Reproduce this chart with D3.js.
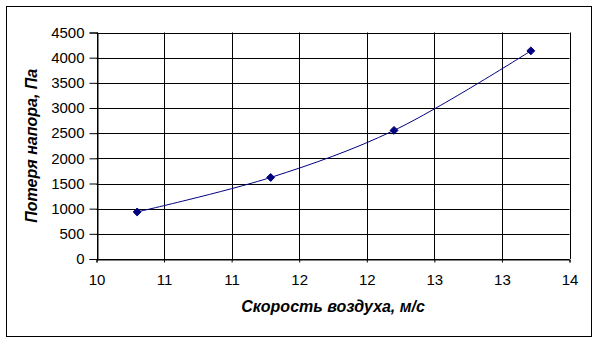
<!DOCTYPE html>
<html>
<head>
<meta charset="utf-8">
<script src="https://cdn.jsdelivr.net/npm/d3@7"></script>
<style>
  html, body { margin: 0; padding: 0; background: #fff; }
  svg { display: block; }
  text { font-family: Arial, "Liberation Sans", sans-serif; }
</style>
</head>
<body>
<svg id="chart" width="599" height="344"></svg>
<script>
// Data
const speeds = [10.344, 11.473, 12.516, 13.673];
const losses = [935, 1620, 2555, 4135];
const xTicks = [10, 10 + 4/7, 10 + 8/7, 10 + 12/7, 10 + 16/7, 10 + 20/7, 10 + 24/7, 14];
const yTicks = [0, 500, 1000, 1500, 2000, 2500, 3000, 3500, 4000, 4500];
const xTitle = "Скорость воздуха, м/с";
const yTitle = "Потеря напора, Па";

(function () {
const svg = d3.select("#chart");
const pLeft = 96.5, pRight = 569.5, pTop = 32.5, pBottom = 259;

const x = d3.scaleLinear().domain([10, 14]).range([pLeft, pRight]);
const y = d3.scaleLinear().domain([0, 4500]).range([pBottom, pTop]);

// Outer border
svg.append("rect").attr("x", 6.5).attr("y", 6.5).attr("width", 585).attr("height", 330)
  .attr("fill", "#fff").attr("stroke", "#000").attr("stroke-width", 1);

// Gridlines
svg.append("g").selectAll("line").data(yTicks).join("line")
  .attr("x1", pLeft).attr("x2", pRight)
  .attr("y1", d => Math.round(y(d)) + 0.5).attr("y2", d => Math.round(y(d)) + 0.5)
  .attr("stroke", "#000").attr("stroke-width", 1);
svg.append("g").selectAll("line").data(xTicks).join("line")
  .attr("y1", pTop).attr("y2", pBottom)
  .attr("x1", d => Math.round(x(d)) + 0.5).attr("x2", d => Math.round(x(d)) + 0.5)
  .attr("stroke", "#000").attr("stroke-width", 1);

// Axes
const yAxis = d3.axisLeft(y).tickValues(yTicks).tickSize(8).tickPadding(5).tickFormat(d3.format("d"));
const gy = svg.append("g").attr("transform", `translate(${Math.round(pLeft) + 0.5},0)`).call(yAxis);
gy.select(".domain").attr("stroke", "#000");
gy.selectAll(".tick line").attr("stroke", "#000");
gy.selectAll("text").attr("font-size", 15).attr("fill", "#000")
  .attr("font-family", "Arial, 'Liberation Sans', sans-serif");

const xAxis = d3.axisBottom(x).tickValues(xTicks).tickSize(3).tickPadding(12).tickFormat(d => Math.round(d));
const gx = svg.append("g").attr("transform", `translate(0,${Math.round(pBottom) + 0.5})`).call(xAxis);
gx.select(".domain").attr("stroke", "#000");
gx.selectAll(".tick line").attr("stroke", "#000");
gx.selectAll("text").attr("font-size", 15).attr("fill", "#000")
  .attr("font-family", "Arial, 'Liberation Sans', sans-serif");

// Line
const pts = speeds.map((s, i) => [s, losses[i]]);
svg.append("path").datum(pts)
  .attr("d", d3.line().x(d => x(d[0])).y(d => y(d[1])).curve(d3.curveCatmullRom.alpha(0.5)))
  .attr("fill", "none").attr("stroke", "#000080").attr("stroke-width", 1);

// Markers
svg.append("g").selectAll("path").data(pts).join("path")
  .attr("d", d3.symbol(d3.symbolDiamond2, 40))
  .attr("transform", d => `translate(${x(d[0])},${y(d[1])})`)
  .attr("fill", "#000080").attr("stroke", "#000080").attr("stroke-width", 1);

// Titles
svg.append("text").attr("x", (pLeft + pRight) / 2).attr("y", 312)
  .attr("text-anchor", "middle").attr("font-size", 16).attr("font-weight", "bold")
  .attr("font-style", "italic").text(xTitle);
svg.append("text").attr("transform", `translate(37,${(pTop + pBottom) / 2}) rotate(-90)`)
  .attr("text-anchor", "middle").attr("font-size", 16).attr("font-weight", "bold")
  .attr("font-style", "italic").text(yTitle);
})();
</script>
</body>
</html>
